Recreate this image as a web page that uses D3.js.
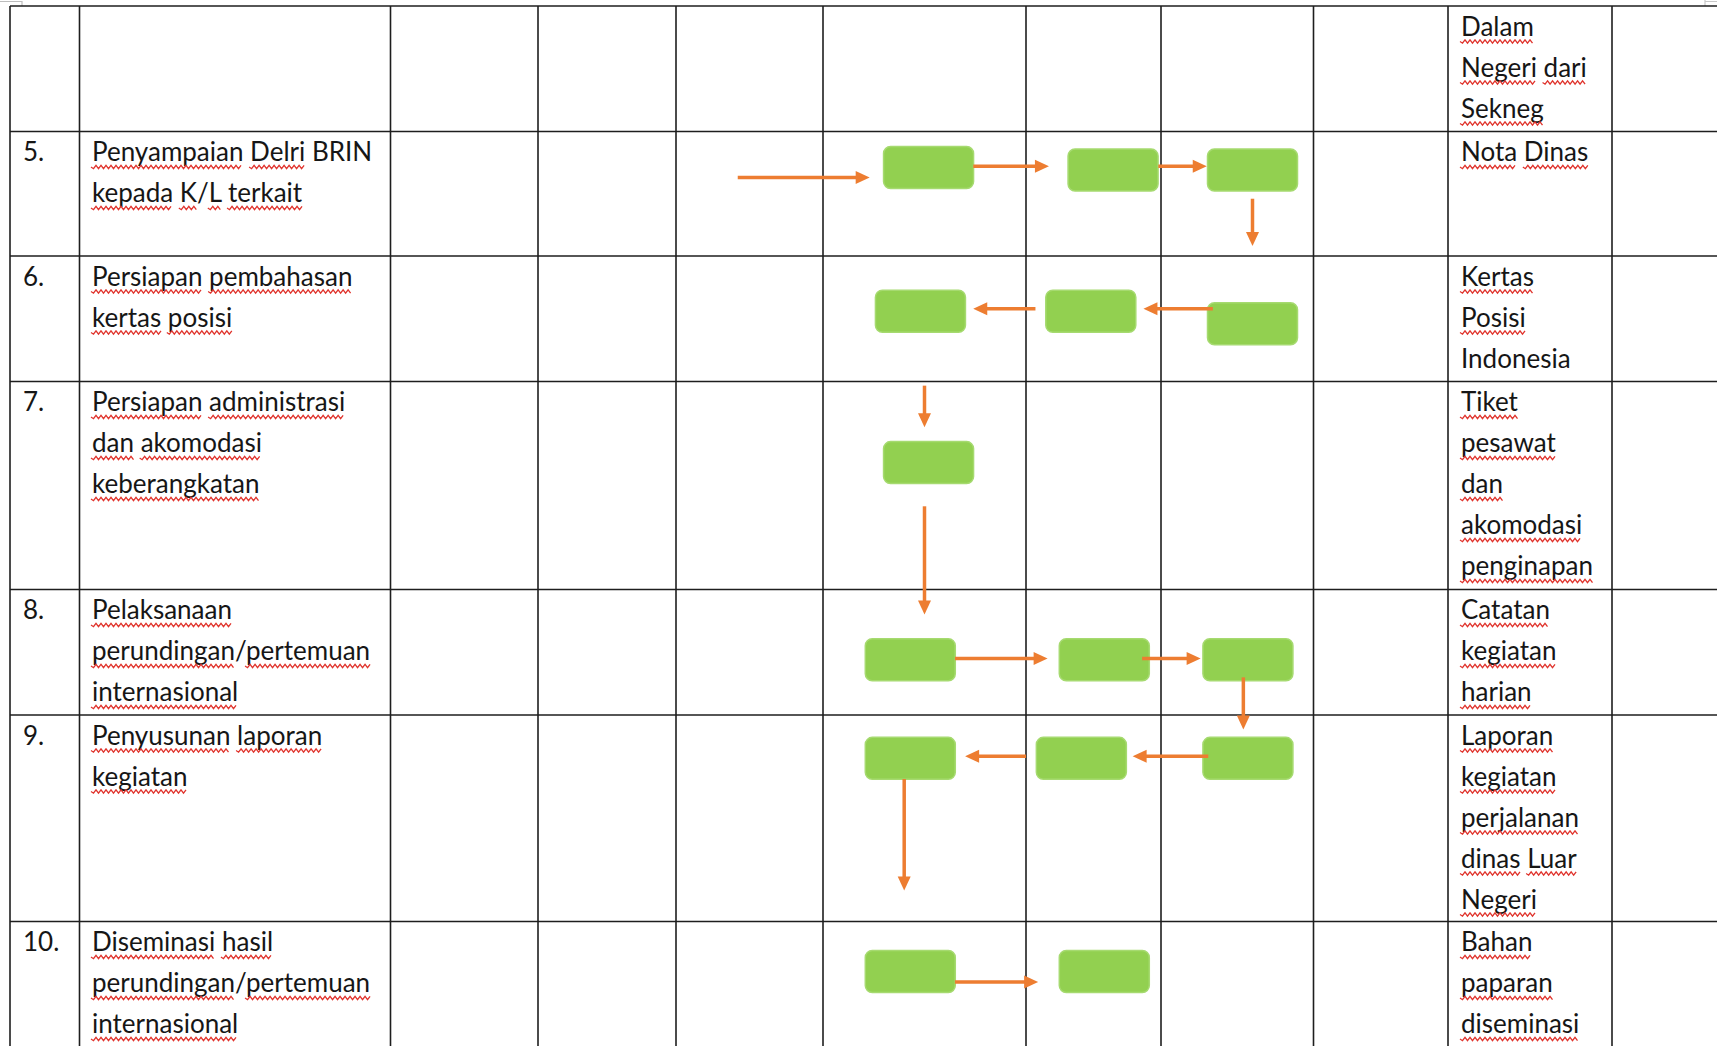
<!DOCTYPE html>
<html><head><meta charset="utf-8">
<script src="https://cdn.jsdelivr.net/npm/d3@7"></script>
<style>html,body{margin:0;padding:0;background:#fff;overflow:hidden}svg{display:block}</style>
</head><body>
<script>
// ---- data ----
const rowNumbers = ["", "5.", "6.", "7.", "8.", "9.", "10."];
const activities = [
  [],
  ["Penyampaian Delri BRIN", "kepada K/L terkait"],
  ["Persiapan pembahasan", "kertas posisi"],
  ["Persiapan administrasi", "dan akomodasi", "keberangkatan"],
  ["Pelaksanaan", "perundingan/pertemuan", "internasional"],
  ["Penyusunan laporan", "kegiatan"],
  ["Diseminasi hasil", "perundingan/pertemuan", "internasional"]
];
const outputs = [
  ["Dalam", "Negeri dari", "Sekneg"],
  ["Nota Dinas"],
  ["Kertas", "Posisi", "Indonesia"],
  ["Tiket", "pesawat", "dan", "akomodasi", "penginapan"],
  ["Catatan", "kegiatan", "harian"],
  ["Laporan", "kegiatan", "perjalanan", "dinas Luar", "Negeri"],
  ["Bahan", "paparan", "diseminasi"]
];
const notFlagged = ["BRIN", "K/L", "Indonesia"];
// process boxes: [column position, row position] (column/row index + fraction of the cell)
const boxes = [
  [5.52, 1.29], [6.645, 1.31], [7.60, 1.31],
  [5.48, 2.44], [6.48, 2.44], [7.60, 2.54],
  [5.52, 3.39],
  [5.43, 4.56], [6.58, 4.56], [7.57, 4.56],
  [5.43, 5.21], [6.41, 5.21], [7.57, 5.21],
  [5.43, 6.24], [6.58, 6.24]
];
// arrows: [from col, from row, to col, to row]
const arrows = [
  [4.42, 1.37, 5.23, 1.37], [5.74, 1.28, 6.17, 1.28], [6.98, 1.28, 7.30, 1.28], [7.60, 1.54, 7.60, 1.92],
  [7.34, 2.42, 6.87, 2.42], [6.07, 2.42, 5.74, 2.42],
  [5.50, 3.02, 5.50, 3.22], [5.50, 3.60, 5.50, 4.20],
  [5.65, 4.55, 6.16, 4.55], [6.86, 4.55, 7.26, 4.55], [7.54, 4.70, 7.54, 5.07],
  [7.31, 5.20, 6.79, 5.20], [6.00, 5.20, 5.70, 5.20], [5.40, 5.31, 5.40, 5.85],
  [5.65, 6.29, 6.09, 6.29]
];

// ---- layout ----
const W = 1717, H = 1046;
const colEdges = [10, 79.5, 390.5, 538, 676, 823, 1026, 1161, 1313.5, 1448, 1612, 1760];
const rowEdges = [6, 131.5, 256, 381.5, 589.5, 715, 921.5, 1130];
const x = d3.scaleLinear().domain(d3.range(colEdges.length)).range(colEdges);
const y = d3.scaleLinear().domain(d3.range(rowEdges.length)).range(rowEdges);

const svg = d3.select("body").append("svg").attr("width", W).attr("height", H);

// page artifacts at top
svg.append("path").attr("d", "M0,1.5H22V6").attr("fill", "none").attr("stroke", "#bdbdbd").attr("stroke-width", 1.2);
svg.append("path").attr("d", "M1705,0V6M1705,1.5H1717").attr("fill", "none").attr("stroke", "#c8c8c8").attr("stroke-width", 1.2);

// grid
const grid = svg.append("g").attr("stroke", "#1e1e1e").attr("stroke-width", 1.6);
grid.selectAll("line.h").data(d3.range(rowEdges.length - 1)).join("line")
  .attr("x1", x(0)).attr("x2", W).attr("y1", d => y(d)).attr("y2", d => y(d));
grid.selectAll("line.v").data(d3.range(colEdges.length - 1)).join("line")
  .attr("y1", y(0)).attr("y2", H).attr("x1", d => x(d)).attr("x2", d => x(d));

// boxes
const bw = 90, bh = 42;
svg.append("g").selectAll("rect").data(boxes).join("rect")
  .attr("x", d => x(d[0]) - bw / 2).attr("y", d => y(d[1]) - bh / 2)
  .attr("width", bw).attr("height", bh).attr("rx", 7)
  .attr("fill", "#92d050").attr("stroke", "#a6da70").attr("stroke-width", 1.5);

// arrows
const orange = "#ed7d31";
const ag = svg.append("g");
arrows.forEach(a => {
  const x1 = x(a[0]), y1 = y(a[1]), x2 = x(a[2]), y2 = y(a[3]);
  const ang = Math.atan2(y2 - y1, x2 - x1);
  const hl = 14, hw = 6.5;
  const bx = x2 - hl * Math.cos(ang), by = y2 - hl * Math.sin(ang);
  ag.append("line").attr("x1", x1).attr("y1", y1).attr("x2", bx + Math.cos(ang)).attr("y2", by + Math.sin(ang))
    .attr("stroke", orange).attr("stroke-width", 3.5);
  const px = -Math.sin(ang), py = Math.cos(ang);
  ag.append("path").attr("d", `M${x2},${y2}L${bx + px * hw},${by + py * hw}L${bx - px * hw},${by - py * hw}Z`)
    .attr("fill", orange);
});

// text
const fontSize = 26, lineH = 41, firstBase = 29.5;
const tg = svg.append("g").attr("font-family", "Lato, 'Open Sans', sans-serif").attr("font-size", fontSize).attr("fill", "#161616");
const wave = svg.append("g").attr("fill", "none").attr("stroke", "#e0342d").attr("stroke-width", 1.3);

function wavy(x0, x1, yy) {
  let d = `M${x0},${yy}`;
  const p = 5, a = 1.7;
  let k = 0;
  for (let xx = x0 + p / 2; xx <= x1 + 0.01; xx += p / 2) {
    d += `L${xx},${yy + (k % 2 === 0 ? a : -a)}`;
    k++;
  }
  return d;
}

function drawLine(str, tx, ty, flag) {
  const t = tg.append("text").attr("x", tx).attr("y", ty).text(str);
  if (!flag) return;
  const node = t.node();
  const re = /[^\s\/]+/g;
  let m;
  while ((m = re.exec(str)) !== null) {
    const w = m[0];
    if (notFlagged.includes(w) || /^\d+\.?$/.test(w)) continue;
    const s = node.getStartPositionOfChar(m.index).x;
    const e = node.getEndPositionOfChar(m.index + w.length - 1).x;
    wave.append("path").attr("d", wavy(s - 1, e, ty + 6));
  }
}

rowNumbers.forEach((n, i) => {
  if (n) drawLine(n, x(0) + 13, y(i) + firstBase, false);
});
activities.forEach((lines, i) => {
  lines.forEach((l, j) => drawLine(l, x(1) + 12.5, y(i) + firstBase + j * lineH, true));
});
outputs.forEach((lines, i) => {
  lines.forEach((l, j) => drawLine(l, x(9) + 13, y(i) + firstBase + j * lineH, true));
});
</script>
</body></html>
